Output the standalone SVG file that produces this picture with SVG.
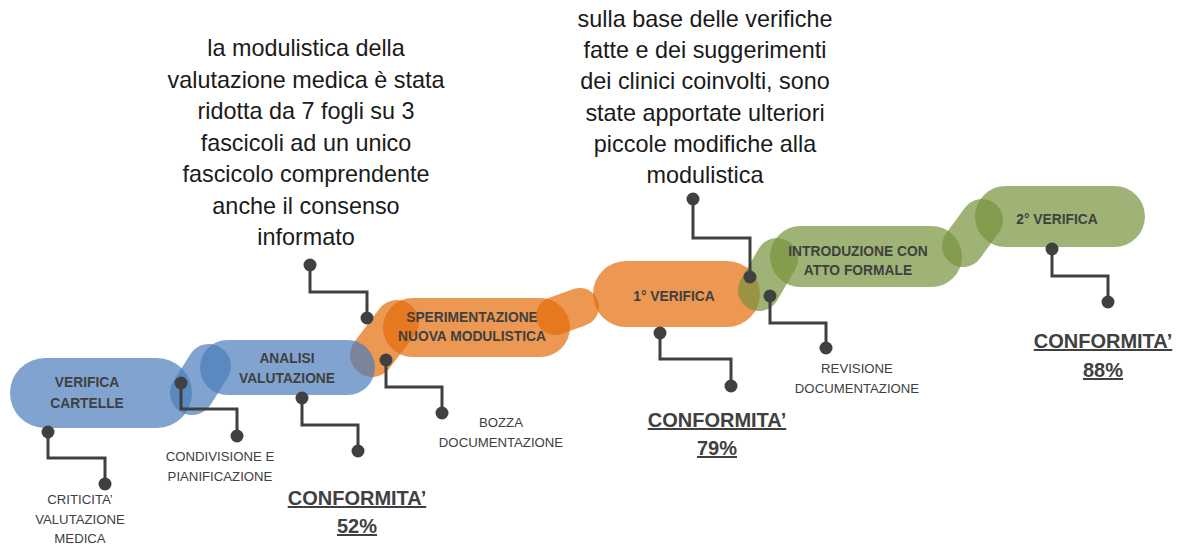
<svg xmlns="http://www.w3.org/2000/svg" width="1178" height="544" viewBox="0 0 1178 544">
<style>
.blue{fill:#4A7EBB;fill-opacity:0.7}
.orange{fill:#E46C0A;fill-opacity:0.7}
.green{fill:#77933C;fill-opacity:0.7}
.lb{stroke:#4A7EBB;stroke-opacity:0.7;stroke-linecap:round;fill:none}
.lo{stroke:#E46C0A;stroke-opacity:0.7;stroke-linecap:round;fill:none}
.lg{stroke:#77933C;stroke-opacity:0.7;stroke-linecap:round;fill:none}
.pt{font-family:"Liberation Sans",Arial,sans-serif;font-weight:bold;font-size:13.8px;fill:#404040;text-anchor:middle}
.sl{font-family:"Liberation Sans",Arial,sans-serif;font-size:13.2px;fill:#404040;text-anchor:middle}
.cf{font-family:"Liberation Sans",Arial,sans-serif;font-weight:bold;font-size:20px;fill:#404040;text-anchor:middle;text-decoration:underline}
.big{font-family:"Liberation Sans",Arial,sans-serif;font-size:23.4px;fill:#1a1a1a;text-anchor:middle}
.ld{stroke:#404040;stroke-width:3;fill:none}
.dot{fill:#404040}
</style>

<g id="link-orange-1"><line class="lo" x1="372" y1="355" x2="397" y2="322" stroke-width="44"/></g>

<g id="node-verifica-cartelle">
<rect class="blue" x="10" y="358" width="182" height="70" rx="35"/>
<text class="pt" x="87" y="387">VERIFICA</text>
<text class="pt" x="87" y="408">CARTELLE</text>
</g>

<g id="link-blue"><line class="lb" x1="192" y1="393" x2="209" y2="366" stroke-width="44"/></g>

<g id="node-analisi">
<rect class="blue" x="200" y="340" width="175" height="55" rx="27.5"/>
<text class="pt" x="287" y="363">ANALISI</text>
<text class="pt" x="287" y="383">VALUTAZIONE</text>
</g>

<g id="node-sperimentazione">
<rect class="orange" x="383" y="298" width="187" height="59" rx="29.5"/>
<text class="pt" x="472" y="322">SPERIMENTAZIONE</text>
<text class="pt" x="472" y="341">NUOVA MODULISTICA</text>
</g>

<g id="link-orange-2"><line class="lo" x1="555" y1="316" x2="580" y2="307" stroke-width="38"/></g>

<g id="node-verifica-1">
<rect class="orange" x="593" y="261" width="167" height="66" rx="33"/>
<text class="pt" x="674" y="301">1° VERIFICA</text>
</g>

<g id="link-green-1"><line class="lg" x1="759" y1="290" x2="777" y2="259" stroke-width="42"/></g>

<g id="node-introduzione">
<rect class="green" x="770" y="226" width="192" height="61" rx="30.5"/>
<text class="pt" x="858" y="256">INTRODUZIONE CON</text>
<text class="pt" x="858" y="275">ATTO FORMALE</text>
</g>

<g id="link-green-2"><line class="lg" x1="963" y1="246" x2="982" y2="220" stroke-width="42"/></g>

<g id="node-verifica-2">
<rect class="green" x="975" y="186" width="170" height="61" rx="30.5"/>
<text class="pt" x="1057" y="224">2° VERIFICA</text>
</g>

<g id="connectors">
<path class="ld" d="M48 432 V458 H105 V484"/>
<path class="ld" d="M181 383 V409 H237 V436"/>
<path class="ld" d="M302 398 V425 H358 V451"/>
<path class="ld" d="M310 265 V292 H367 V318"/>
<path class="ld" d="M386 360 V387 H442 V413"/>
<path class="ld" d="M693 199 V238 H750 V277"/>
<path class="ld" d="M770 296 V323 H826 V348"/>
<path class="ld" d="M660 333 V359 H731 V386"/>
<path class="ld" d="M1052 249 V276 H1108 V302"/>
<circle class="dot" cx="48" cy="432" r="6.5"/><circle class="dot" cx="105" cy="484" r="6.5"/>
<circle class="dot" cx="181" cy="383" r="6.5"/><circle class="dot" cx="237" cy="436" r="6.5"/>
<circle class="dot" cx="302" cy="398" r="6.5"/><circle class="dot" cx="358" cy="451" r="6.5"/>
<circle class="dot" cx="310" cy="265" r="6.5"/><circle class="dot" cx="367" cy="318" r="6.5"/>
<circle class="dot" cx="386" cy="360" r="6.5"/><circle class="dot" cx="442" cy="413" r="6.5"/>
<circle class="dot" cx="693" cy="199" r="6.5"/><circle class="dot" cx="750" cy="277" r="6.5"/>
<circle class="dot" cx="770" cy="296" r="6.5"/><circle class="dot" cx="826" cy="348" r="6.5"/>
<circle class="dot" cx="660" cy="333" r="6.5"/><circle class="dot" cx="731" cy="386" r="6.5"/>
<circle class="dot" cx="1052" cy="249" r="6.5"/><circle class="dot" cx="1108" cy="302" r="6.5"/>
</g>

<g id="label-criticita">
<text class="sl" x="80" y="504">CRITICITA’</text>
<text class="sl" x="80" y="524">VALUTAZIONE</text>
<text class="sl" x="80" y="543">MEDICA</text>
</g>
<g id="label-condivisione">
<text class="sl" x="220" y="461">CONDIVISIONE E</text>
<text class="sl" x="220" y="481">PIANIFICAZIONE</text>
</g>
<g id="label-bozza">
<text class="sl" x="501" y="427">BOZZA</text>
<text class="sl" x="501" y="447">DOCUMENTAZIONE</text>
</g>
<g id="label-revisione">
<text class="sl" x="857" y="373">REVISIONE</text>
<text class="sl" x="857" y="393">DOCUMENTAZIONE</text>
</g>
<g id="label-conf-52">
<text class="cf" x="357" y="505">CONFORMITA’</text>
<text class="cf" x="357" y="533">52%</text>
</g>
<g id="label-conf-79">
<text class="cf" x="717" y="427">CONFORMITA’</text>
<text class="cf" x="717" y="455">79%</text>
</g>
<g id="label-conf-88">
<text class="cf" x="1103" y="348">CONFORMITA’</text>
<text class="cf" x="1103" y="377">88%</text>
</g>

<g id="note-modulistica">
<text class="big" x="306" y="56">la modulistica della</text>
<text class="big" x="306" y="87.5">valutazione medica è stata</text>
<text class="big" x="306" y="119">ridotta da 7 fogli su 3</text>
<text class="big" x="306" y="150.5">fascicoli ad un unico</text>
<text class="big" x="306" y="182">fascicolo comprendente</text>
<text class="big" x="306" y="213.5">anche il consenso</text>
<text class="big" x="306" y="245">informato</text>
</g>
<g id="note-verifiche">
<text class="big" x="705" y="27">sulla base delle verifiche</text>
<text class="big" x="705" y="58">fatte e dei suggerimenti</text>
<text class="big" x="705" y="89">dei clinici coinvolti, sono</text>
<text class="big" x="705" y="120.5">state apportate ulteriori</text>
<text class="big" x="705" y="152">piccole modifiche alla</text>
<text class="big" x="705" y="183">modulistica</text>
</g>
</svg>
